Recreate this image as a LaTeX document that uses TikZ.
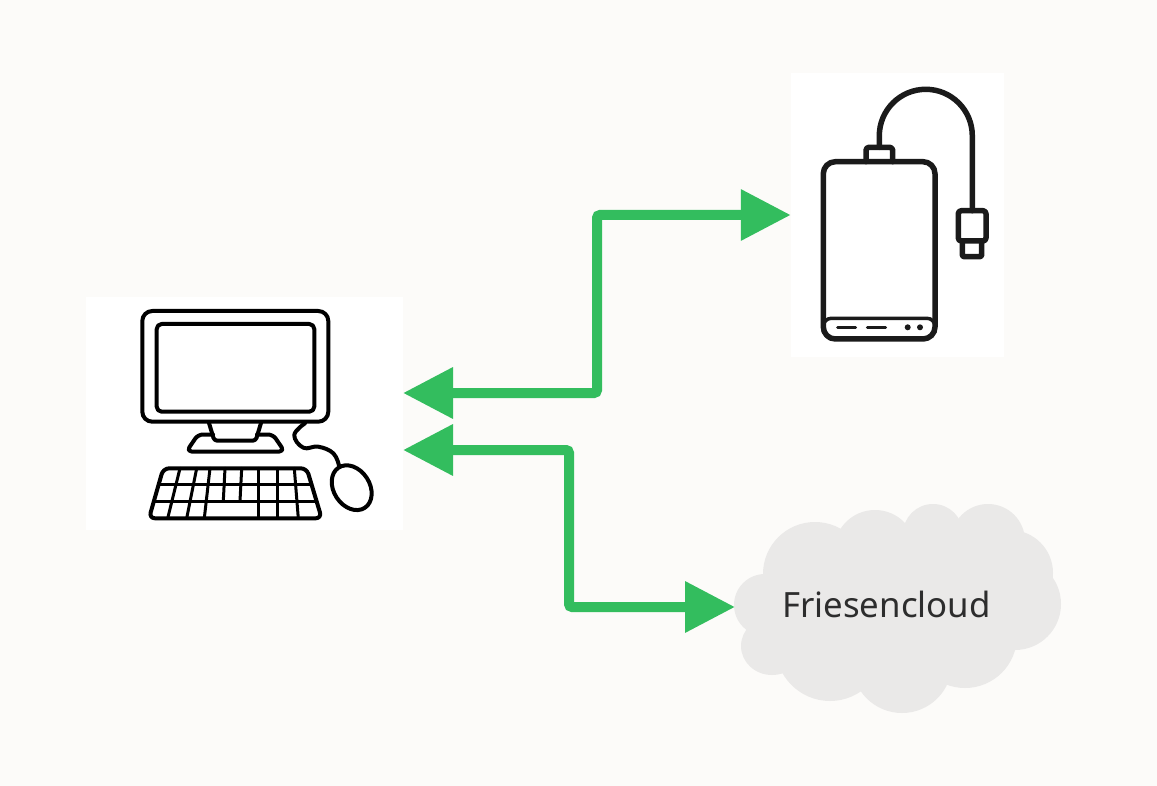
\documentclass[tikz,border=0pt]{standalone}
\usepackage{fontspec}
\setmainfont{Noto Sans}
\usetikzlibrary{arrows.meta,calc}
\definecolor{linkgreen}{HTML}{33BD5E}
\definecolor{paper}{HTML}{FCFBF9}
\definecolor{cloudgray}{HTML}{EAE9E8}
\definecolor{inkdark}{HTML}{1A1A1A}
\definecolor{labeldark}{HTML}{2D2D2D}

\begin{document}
\begin{tikzpicture}[
  x=1pt, y=-1pt,
  iconbox/.style={fill=white, inner sep=0pt, outer sep=0pt},
  link/.style={{Triangle[length=50pt,width=49pt]}-{Triangle[length=50pt,width=49pt]},
               draw=linkgreen, line width=10pt, rounded corners=3pt},
  pcline/.style={draw=black, line width=4pt, line join=round, line cap=round},
  keyline/.style={draw=black, line width=3pt, line cap=round},
  driveline/.style={draw=inkdark, line width=5.5pt, line join=round, line cap=round},
  blob/.style={fill=cloudgray, draw=none}]
\fill[paper] (0,0) rectangle (1157,786);
\node[iconbox, minimum width=317pt, minimum height=233pt] (pc) at (244.5,413.5) {};
\node[iconbox, minimum width=213.5pt, minimum height=284pt] (drive) at (897.5,215) {};
% cloud made of overlapping blobs
\foreach \cx/\cy/\rx/\ry in {815/574/52/52, 875/551/41/41, 933/534/30/30, 988/541/37/37,
    1010/573/43/43, 1015/604/46/46, 965/636/52/52, 902/663/50/50, 830/645/55/56,
    772/646/31/29, 765/605/31/31, 900/600/110/70}
  \fill[blob] (\cx,\cy) ellipse [x radius=\rx, y radius=\ry];
\node[inner sep=0pt, outer sep=0pt, minimum width=300pt, text=labeldark, font=\fontsize{34.8pt}{38pt}\selectfont] (cloud) at (885,607) {\hspace{3pt}\raisebox{5pt}{Friesencloud}};
% computer
\draw[pcline, rounded corners=10pt] (142.3,311) rectangle (328.3,421.7);
\draw[pcline, rounded corners=5pt] (156.7,324) rectangle (314.3,411.7);
\draw[pcline, rounded corners=3pt] (209,423) -- (214.3,440.7) -- (255.7,440.7) -- (261,423);
\draw[pcline, rounded corners=5pt] (213,434.5) -- (198,434.5) -- (186.5,451.5) -- (284.5,451.5) -- (273,434.5) -- (257,434.5);
\draw[pcline, rounded corners=6pt] (163.3,468.3) -- (306.7,468.3) -- (321.7,518.3) -- (149,518.3) -- cycle;
\draw[keyline] (158.5,484.3) -- (311.5,484.3);
\draw[keyline] (154,501) -- (316.5,501);
\foreach \xa/\xb in {180/167.7, 196.7/186.7, 210/204.3, 258.3/258.3, 277.7/277.7, 294.3/298.3}
  \draw[keyline] (\xa,468.3) -- (\xb,518.3);
\foreach \xa/\xb in {225/223.3, 241.7/240}
  \draw[keyline] (\xa,468.3) -- (\xb,501);
\draw[pcline, shift={(351.7,487.7)}, rotate=-57] (0,0) ellipse [x radius=24, y radius=18];
\draw[pcline] plot[smooth, tension=0.7] coordinates {(305,423.3) (294.3,435) (303.3,447.7) (318.3,446.7) (333.3,453.3) (339,465.7)};
% external drive
\draw[driveline, rounded corners=12pt] (823.3,161.7) rectangle (935,339);
\draw[driveline, line width=3.5pt, rounded corners=8pt] (823.3,332) -- (823.3,318.3) -- (935,318.3) -- (935,332);
\draw[driveline, line width=3pt] (837.7,327.3) -- (855.7,327.3);
\draw[driveline, line width=3pt] (867.3,327.3) -- (885.7,327.3);
\fill[inkdark] (907.7,327.3) circle [radius=3pt] (920,327.3) circle [radius=3pt];
\draw[driveline, rounded corners=3pt] (866,161.7) -- (866,147.3) -- (892.7,147.3) -- (892.7,161.7);
\draw[driveline] (879.3,147.3) -- (879.3,135.8) arc [start angle=180, end angle=0, radius=46.5pt] -- (972.3,210.7);
\draw[driveline, rounded corners=3pt] (958.3,210.7) rectangle (986,241);
\draw[driveline, rounded corners=2pt] (962.3,241) -- (962.3,256.7) -- (981.7,256.7) -- (981.7,241);
% connectors
\coordinate (pcupper) at (403,393);
\coordinate (pclower) at (403,450);
\draw[link] (pcupper) -| (597,300) |- (drive.west);
\draw[link] (pclower) -| (569,530) |- (cloud.west);
\end{tikzpicture}
\end{document}
